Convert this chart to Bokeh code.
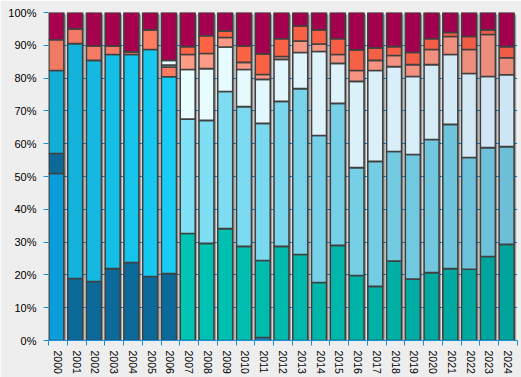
import numpy as np
from bokeh.plotting import figure
from bokeh.models import Range1d, FixedTicker, ColumnDataSource
from bokeh.embed import file_html
from bokeh.resources import INLINE

years = [str(y) for y in range(2000, 2025)]
y_ticks = [0, 10, 20, 30, 40, 50, 60, 70, 80, 90, 100]

# shares in percent, stacked bottom -> top
s_blue =     [50.9, 0, 0, 0, 0, 0, 0, 0, 0, 0, 0, 0.9, 0, 0, 0, 0, 0, 0, 0, 0, 0, 0, 0, 0, 0]
s_navy =     [6.1, 18.9, 18.0, 21.9, 23.8, 19.5, 20.4, 0, 0, 0, 0, 0, 0, 0, 0, 0, 0, 0, 0, 0, 0, 0, 0, 0, 0]
s_teal =     [0, 0, 0, 0, 0, 0, 0, 32.6, 29.6, 34.1, 28.7, 23.5, 28.7, 26.2, 17.7, 29.0, 19.8, 16.5, 24.2, 18.7, 20.7, 21.9, 21.7, 25.6, 29.3]
s_cyan =     [25.3, 71.6, 67.4, 65.3, 63.4, 69.2, 60.0, 0, 0, 0, 0, 0, 0, 0, 0, 0, 0, 0, 0, 0, 0, 0, 0, 0, 0]
s_coral =    [9.4, 4.5, 4.4, 2.6, 0.8, 6.0, 3.0, 0, 0, 0, 0, 0, 0, 0, 0, 0, 0, 0, 0, 0, 0, 0, 0, 0, 0]
s_sky =      [0, 0, 0, 0, 0, 0, 0.6, 34.9, 37.5, 41.8, 42.6, 41.8, 44.2, 50.6, 44.8, 43.3, 32.9, 38.1, 33.4, 38.0, 40.6, 44.0, 34.1, 33.2, 29.8]
s_pale =     [0, 0, 0, 0, 0, 0, 1.4, 15.1, 15.8, 13.6, 11.3, 13.4, 12.8, 11.0, 25.6, 12.2, 26.3, 27.7, 25.9, 23.8, 22.8, 21.3, 25.6, 21.7, 21.9]
s_salmon =   [0, 0, 0, 0, 0, 0, 0, 4.6, 4.6, 2.9, 2.2, 1.5, 0.9, 3.5, 2.3, 2.7, 3.3, 3.1, 3.4, 3.6, 4.6, 5.5, 7.3, 12.8, 5.2]
s_orange =   [0, 0, 0, 0, 0, 0, 0, 2.4, 5.4, 2.0, 5.0, 6.3, 5.4, 4.6, 4.3, 4.8, 6.3, 3.8, 2.7, 3.7, 3.3, 1.2, 4.0, 1.4, 3.4]
s_maroon =   [8.3, 5.0, 10.2, 10.2, 12.0, 5.3, 14.6, 10.4, 7.1, 5.6, 10.2, 12.6, 8.0, 4.1, 5.3, 8.0, 11.4, 10.8, 10.4, 12.2, 8.0, 6.1, 7.3, 5.3, 10.4]

series = [s_blue, s_navy, s_teal, s_cyan, s_coral, s_sky, s_pale, s_salmon, s_orange, s_maroon]
colors = [
    ("#0a9ddc", "#1a8ed6"),
    ("#0b6a9a", "#0b6a9a"),
    ("#00c4b4", "#00a49c"),
    ("#12aed6", "#18cdf5"),
    ("#f07a64", "#ff7c62"),
    ("#80e2f8", "#6cbfd6"),
    ("#ebffff", "#cfe6f4"),
    ("#ff9c88", "#ec8c7c"),
    ("#ff6444", "#ee5c46"),
    ("#a8004f", "#a0004e"),
]


def hex2rgb(h):
    h = h.lstrip("#")
    return np.array([int(h[i:i + 2], 16) for i in (0, 2, 4)], dtype=float)


def grad(c0, c1, n, idx):
    a, b = hex2rgb(c0), hex2rgb(c1)
    out = []
    lo, hi = (min(idx), max(idx)) if idx else (0, 1)
    for i in range(n):
        t = 0.0 if hi == lo else min(max((i - lo) / (hi - lo), 0), 1)
        c = a + (b - a) * t
        out.append("#%02x%02x%02x" % tuple(int(round(v)) for v in c))
    return out


n = len(years)
xs = np.arange(n)
data = np.array(series, dtype=float)
data = data / data.sum(axis=0) * 100.0
tops = np.cumsum(data, axis=0)
bottoms = tops - data

p = figure(width=521, height=377, output_backend="svg", toolbar_location=None,
           x_range=Range1d(-0.5, n - 0.5), y_range=Range1d(0, 100),
           min_border_left=48, min_border_right=4, min_border_top=12, min_border_bottom=37)
p.background_fill_color = "#eeeeee"
p.border_fill_color = "#eeeeee"
p.outline_line_color = None

bar_x = xs - 0.08
bw = 0.8

# drop shadow
p.vbar(x=bar_x + 0.11, width=bw, bottom=-1, top=100 - 0.6,
       fill_color="#000000", fill_alpha=0.32, line_color=None)

for k, s in enumerate(series):
    idx = [i for i, v in enumerate(s) if v > 0]
    cols = grad(colors[k][0], colors[k][1], n, idx)
    src = ColumnDataSource(dict(x=bar_x[idx], bottom=bottoms[k][idx], top=tops[k][idx],
                                color=[cols[i] for i in idx]))
    p.vbar(x="x", width=bw, bottom="bottom", top="top", source=src,
           fill_color="color", line_color="#404040", line_width=1.6)

blue = "#1a8fd6"
p.xgrid.visible = False
p.ygrid.ticker = FixedTicker(ticks=y_ticks)
p.ygrid.grid_line_color = blue
p.ygrid.grid_line_width = 1

p.yaxis.ticker = FixedTicker(ticks=y_ticks)
p.yaxis.major_label_overrides = {t: f"{t}%" for t in y_ticks}
p.yaxis.axis_line_color = None
p.yaxis.major_tick_line_color = blue
p.yaxis.major_tick_in = 0
p.yaxis.major_tick_out = 5
p.yaxis.minor_tick_line_color = None
p.yaxis.major_label_standoff = 7
p.yaxis.major_label_text_font = "Liberation Sans"
p.yaxis.major_label_text_font_size = "11px"
p.yaxis.major_label_text_color = "#000000"

p.xaxis.ticker = FixedTicker(ticks=list(range(n)), minor_ticks=[i - 0.5 for i in range(n + 1)])
p.xaxis.major_label_overrides = {i: years[i] for i in range(n)}
p.xaxis.axis_line_color = blue
p.xaxis.axis_line_width = 1
p.xaxis.major_tick_line_color = None
p.xaxis.major_tick_in = 0
p.xaxis.major_tick_out = 0
p.xaxis.minor_tick_line_color = blue
p.xaxis.minor_tick_in = 0
p.xaxis.minor_tick_out = 5
p.xaxis.major_label_orientation = "vertical"
p.xaxis.major_label_standoff = 5
p.xaxis.major_label_text_font = "Liberation Sans"
p.xaxis.major_label_text_font_size = "10.5px"
p.xaxis.major_label_text_color = "#000000"

open("out.html", "w").write(file_html(p, INLINE))
